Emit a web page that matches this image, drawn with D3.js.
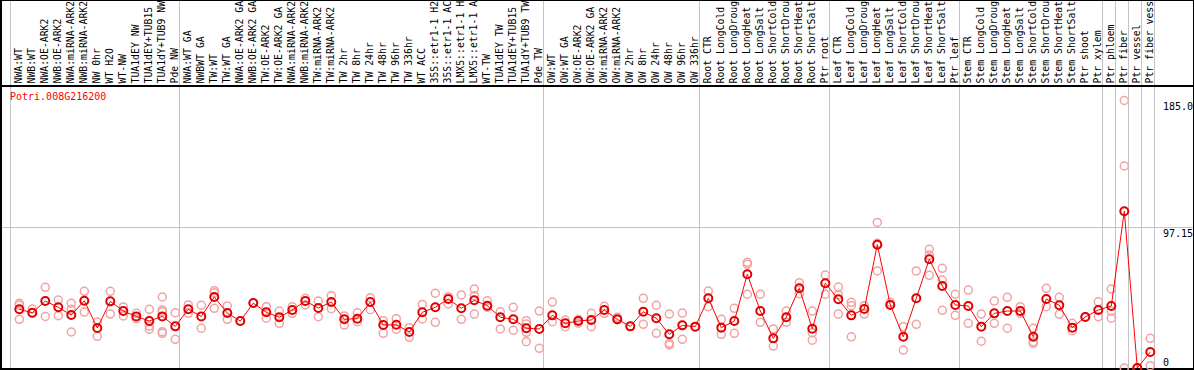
<!DOCTYPE html>
<html>
<head>
<meta charset="utf-8">
<script src="https://cdn.jsdelivr.net/npm/d3@7"></script>
<style>
  body { margin: 0; background: #fff; }
  text { font-family: 'DejaVu Sans Mono', monospace; font-size: 10px; }
  .cat { font-size: 9.8px; }
</style>
</head>
<body>
<div id="chart"></div>
<script>
const title = 'Potri.008G216200'

// labels as printed (the original cuts them at 14 characters)
const categories = [
  'NWA:WT', 'NWB:WT', 'NWA:OE-ARK2', 'NWB:OE-ARK2', 'NWA:miRNA-ARK2', 'NWB:miRNA-ARK2', 'NW 0hr', 'WT H2O', 'WT-NW',
  'TUA1dEY NW', 'TUA1dEY+TUB15', 'TUA1dY+TUB9 NW', 'Pde NW',
  'NWA:WT GA', 'NWBWT GA', 'TW:WT', 'TW:WT GA', 'NWA:OE-ARK2 GA', 'NWB:OE-ARK2 GA', 'TW:OE-ARK2', 'TW:OE-ARK2 GA',
  'NWA:miRNA-ARK2', 'NWB:miRNA-ARK2', 'TW:miRNA-ARK2', 'TW:miRNA-ARK2', 'TW 2hr', 'TW 8hr', 'TW 24hr', 'TW 48hr',
  'TW 96hr', 'TW 336hr', 'WT ACC', '35S::etr1-1 H2', '35S::etr1-1 AC', 'LMX5::etr1-1 H', 'LMX5::etr1-1 A',
  'WT-TW', 'TUA1dEY TW', 'TUA1dEY+TUB15', 'TUA1dY+TUB9 TW', 'Pde TW',
  'OW:WT', 'OW:WT GA', 'OW:OE-ARK2', 'OW:OE-ARK2 GA', 'OW:miRNA-ARK2', 'OW:miRNA-ARK2', 'OW 2hr', 'OW 8hr',
  'OW 24hr', 'OW 48hr', 'OW 96hr', 'OW 336hr',
  'Root CTR', 'Root LongCold', 'Root LongDroug', 'Root LongHeat', 'Root LongSalt', 'Root ShortCold',
  'Root ShortDrou', 'Root ShortHeat', 'Root ShortSalt', 'Ptr root',
  'Leaf CTR', 'Leaf LongCold', 'Leaf LongDroug', 'Leaf LongHeat', 'Leaf LongSalt', 'Leaf ShortCold',
  'Leaf ShortDrou', 'Leaf ShortHeat', 'Leaf ShortSalt', 'Ptr leaf',
  'Stem CTR', 'Stem LongCold', 'Stem LongDroug', 'Stem LongHeat', 'Stem LongSalt', 'Stem ShortCold',
  'Stem ShortDrou', 'Stem ShortHeat', 'Stem ShortSalt', 'Ptr shoot', 'Ptr xylem',
  'Ptr phloem', 'Ptr fiber', 'Ptr vessel', 'Ptr fiber vess'
]

// number of categories between grey separators
const groupSizes = [13, 28, 12, 10, 10, 11, 1, 1, 1, 1]

const means = [
  40.6, 38.2, 46.3, 42.0, 36.6, 46.5, 27.7, 46.1, 39.4, 35.7, 32.5, 35.7, 28.8,
  40.6, 35.7, 49.1, 38.0, 32.5, 44.9, 38.5, 35.1, 40.1, 46.3, 41.5, 45.6, 33.7, 34.1, 45.6, 29.7,
  29.9, 24.9, 38.5, 42.0, 47.7, 41.3, 46.8, 43.1, 35.1, 33.7, 27.5, 27.0,
  36.4, 30.9, 32.5, 33.2, 40.1, 33.7, 28.8, 38.9, 34.4, 23.3, 29.5, 28.6,
  48.2, 27.9, 32.5, 64.8, 39.4, 20.5, 35.1, 55.1, 27.2, 58.6,
  47.5, 36.4, 40.8, 85.3, 43.6, 21.6, 48.2, 75.2, 56.7, 43.6,
  42.9, 28.6, 37.8, 39.4, 39.4, 21.6, 47.7, 43.4, 27.9, 35.3, 40.1,
  42.9, 108.4, 0, 11.1
]

const replicates = [
  [44.7, 43.5, 33.7], [40.8, 38.0], [55.8, 35.7], [47.0, 36.2], [44.7, 40.6, 24.9], [53.0, 38.7],
  [31.8, 21.9], [53.0, 37.3], [42.2, 36.0], [37.8, 34.1], [40.6, 29.0, 26.8], [49.1, 40.1, 38.9, 25.1, 24.0],
  [38.2, 19.8],
  [43.6, 37.8], [43.4, 27.5], [53.5, 52.1, 41.3], [42.9, 33.7], [32.5], [44.9], [42.4, 34.4], [39.4, 30.9],
  [42.4, 37.8], [48.2, 43.6], [46.3, 35.5], [50.0, 41.0], [36.0, 29.7], [38.2, 32.0], [48.6, 40.3],
  [32.7, 24.0], [34.1, 26.8], [27.9, 21.2], [44.0, 33.9], [51.7, 31.6], [49.3, 44.3], [50.5, 33.7],
  [54.6, 50.0, 37.3], [46.5, 42.0], [38.9, 27.0], [42.0, 26.1], [32.7, 30.4, 24.7, 18.2], [39.4, 13.6],
  [45.6, 32.0], [33.2, 28.6], [33.5, 31.0], [37.8, 28.6], [42.7, 37.8], [35.1, 33.2], [28.8], [48.2, 30.2],
  [43.4, 24.0], [37.3, 17.1, 15.9], [38.0, 19.8], [28.6],
  [53.2, 42.4], [33.7, 23.3], [41.3, 24.0], [73.1, 71.7, 51.0], [51.0, 31.6], [27.0, 15.2], [39.4, 31.6],
  [59.0, 51.4], [39.4, 24.4, 19.2], [64.3, 51.0],
  [56.0, 50.5, 37.3], [45.4, 43.1, 21.6], [43.1, 37.3], [100.7, 86.2, 67.1], [45.4, 44.0], [28.6, 12.4],
  [67.1, 30.2], [82.1, 78.1, 64.1], [68.9, 60.8, 39.9], [51.0, 36.4],
  [53.9, 30.9], [37.3, 18.5], [46.3, 30.9], [48.9, 27.5], [42.4, 37.8], [27.5, 18.2, 17.1], [55.1, 42.4],
  [48.9, 37.1], [30.9, 25.8], [35.5], [45.8, 35.5],
  [54.6, 39.4, 34.4], [185.0, 139.7, 0], [0, 0], [20.5, 1.6]
]

const yTicks = [185.0, 97.15, 0]
const yTickLabels = ['185.0', '97.15', '0']

const W = 1194, H = 370
const plotLeft = 10.5, plotRight = 1154.5
const plotBottom = 368

const svg = d3.select('#chart').append('svg')
  .attr('width', W).attr('height', H)

const idx = d3.range(categories.length)
const x = d3.scaleBand().domain(idx).range([plotLeft, plotRight]).padding(0)
const cx = i => x(i) + x.bandwidth() / 2
const y = d3.scaleLinear().domain([0, 185]).range([plotBottom, 100.5])

// grey separators
let edges = [0]
groupSizes.reduce((acc, n) => { edges.push(acc + n); return acc + n }, 0)
svg.append('g').selectAll('line')
  .data(edges).enter().append('line')
  .attr('x1', d => d < categories.length ? x(d) : plotRight)
  .attr('x2', d => d < categories.length ? x(d) : plotRight)
  .attr('y1', 0).attr('y2', H)
  .attr('stroke', '#c4c4c4').attr('stroke-width', 1)

// mid grid line
svg.append('line')
  .attr('x1', 0).attr('x2', W)
  .attr('y1', y(97.15)).attr('y2', y(97.15))
  .attr('stroke', '#c4c4c4').attr('stroke-width', 1)

// category labels
svg.append('g')
  .selectAll('text')
  .data(categories).enter().append('text')
  .classed('cat', true)
  .attr('transform', (d, i) => `translate(${cx(i) + 4.5},83.5) rotate(-90)`)
  .attr('fill', '#000')
  .text(d => d)

// borders
svg.append('line').attr('x1', 0).attr('x2', W).attr('y1', 0.5).attr('y2', 0.5).attr('stroke', '#000')
svg.append('line').attr('x1', 0).attr('x2', W).attr('y1', 86).attr('y2', 86).attr('stroke', '#000').attr('stroke-width', 2)
svg.append('line').attr('x1', 1).attr('x2', 1).attr('y1', 0).attr('y2', H).attr('stroke', '#000').attr('stroke-width', 2)
svg.append('line').attr('x1', 0).attr('x2', W).attr('y1', 369).attr('y2', 369).attr('stroke', '#000').attr('stroke-width', 2)
svg.append('line').attr('x1', 1193.5).attr('x2', 1193.5).attr('y1', 0).attr('y2', H).attr('stroke', '#000')

// title
svg.append('text').attr('x', 10).attr('y', 100)
  .attr('fill', '#ff0000').text(title)

// right axis labels
svg.append('g').selectAll('text')
  .data(yTicks).enter().append('text')
  .attr('x', 1163)
  .attr('y', d => Math.min(y(d) + 9.5, 366))
  .attr('fill', '#000')
  .text((d, i) => yTickLabels[i])

// replicate points
let reps = []
replicates.forEach((arr, i) => arr.forEach(v => reps.push({ i: i, v: v })))
svg.append('g').selectAll('circle')
  .data(reps).enter().append('circle')
  .attr('cx', d => cx(d.i) + 2.3)
  .attr('cy', d => y(d.v))
  .attr('r', 4)
  .attr('fill', 'none')
  .attr('stroke', '#f2a2a2').attr('stroke-width', 1.5)

// mean line
const line = d3.line().x((d, i) => cx(i) + 2.3).y(d => y(d))
svg.append('path').datum(means)
  .attr('d', line)
  .attr('fill', 'none')
  .attr('stroke', '#ff0000').attr('stroke-width', 1)

// mean points
svg.append('g').selectAll('circle')
  .data(means).enter().append('circle')
  .attr('cx', (d, i) => cx(i) + 2.3)
  .attr('cy', d => y(d))
  .attr('r', 4)
  .attr('fill', 'none')
  .attr('stroke', '#e00000').attr('stroke-width', 2)
</script>
</body>
</html>
